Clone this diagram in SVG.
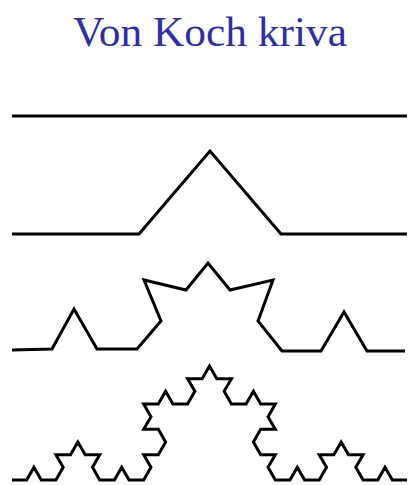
<svg xmlns="http://www.w3.org/2000/svg" width="409" height="485" viewBox="0 0 409 485">
<style>
.title{font-family:"Liberation Serif","Times New Roman",serif;font-size:43px;fill:#2f2f9f}
.curve{fill:none;stroke:#000;stroke-width:3;stroke-linejoin:miter;stroke-miterlimit:10}
</style>
<rect width="409" height="485" fill="#fff"/>
<text class="title" x="73" y="46" textLength="274" lengthAdjust="spacingAndGlyphs">Von Koch kriva</text>
<g id="koch0"><path class="curve" d="M12 116 L407 116"/></g>
<g id="koch1"><path class="curve" d="M12 234 L139 234 L210 151 L281 234 L407 234"/></g>
<g id="koch2"><path class="curve" d="M12 350 L52 349 L74 309 L97 349 L137 349 L161 321 L144 280 L186 290 L208 263 L230 290 L273 280 L258 321 L282 351 L321 351 L344 312 L367 351 L405 351"/></g>
<g id="koch3"><path class="curve" d="M12 480
l14.63 0 l7.315 -12.67 l7.315 12.67 l14.63 0
l7.315 -12.67 l-7.315 -12.67 l14.63 0 l7.315 -12.67
l7.315 12.67 l14.63 0 l-7.315 12.67 l7.315 12.67
l14.63 0 l7.315 -12.67 l7.315 12.67 l14.63 0
l7.315 -12.67 l-7.315 -12.67 l14.63 0 l7.315 -12.67
l-7.315 -12.67 l-14.63 0 l7.315 -12.67 l-7.315 -12.67
l14.63 0 l7.315 -12.67 l7.315 12.67 l14.63 0
l7.315 -12.67 l-7.315 -12.67 l14.63 0 l7.315 -12.67
l7.315 12.67 l14.63 0 l-7.315 12.67 l7.315 12.67
l14.63 0 l7.315 -12.67 l7.315 12.67 l14.63 0
l-7.315 12.67 l7.315 12.67 l-14.63 0 l-7.315 12.67
l7.315 12.67 l14.63 0 l-7.315 12.67 l7.315 12.67
l14.63 0 l7.315 -12.67 l7.315 12.67 l14.63 0
l7.315 -12.67 l-7.315 -12.67 l14.63 0 l7.315 -12.67
l7.315 12.67 l14.63 0 l-7.315 12.67 l7.315 12.67
l14.63 0 l7.315 -12.67 l7.315 12.67 l14.63 0"/></g>
</svg>
